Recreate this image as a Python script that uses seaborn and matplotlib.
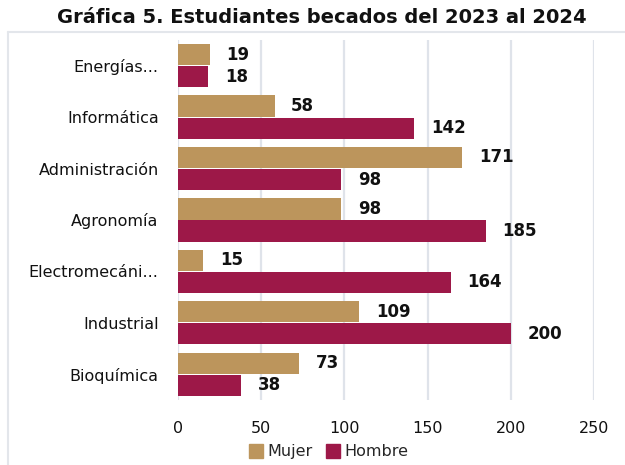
import pandas as pd
import matplotlib.pyplot as plt
import seaborn as sns
from matplotlib.lines import Line2D

carreras = ["Energías...", "Informática", "Administración", "Agronomía",
            "Electromecáni...", "Industrial", "Bioquímica"]
mujer = [19, 58, 171, 98, 15, 109, 73]
hombre = [18, 142, 98, 185, 164, 200, 38]
series = ["Mujer", "Hombre"]
colores = ["#BC955C", "#9D1848"]

df = pd.DataFrame({
    "carrera": carreras * 2,
    "sexo": ["Mujer"] * len(carreras) + ["Hombre"] * len(carreras),
    "valor": mujer + hombre,
})

sns.set_style("white")
plt.rcParams["font.family"] = ["DejaVu Sans"]

fig = plt.figure(figsize=(6.25, 4.65), dpi=100)
ax = fig.add_axes([0.285, 0.14, 0.665, 0.774])

sns.barplot(data=df, y="carrera", x="valor", hue="sexo", hue_order=series,
            palette=colores, orient="h", width=0.86, gap=0.04,
            saturation=1, linewidth=0, ax=ax, legend=False)

for cont in ax.containers:
    ax.bar_label(cont, padding=12, fontsize=12, fontweight="bold", color="#111111")

ax.set_xlim(0, 250)
ax.set_ylim(6.5, -0.5)
ax.set_xticks([0, 50, 100, 150, 200, 250])
ax.xaxis.grid(True, color="#DFE3EA", linewidth=1.6)
ax.set_axisbelow(True)
ax.set_xlabel("")
ax.set_ylabel("")
for s in ax.spines.values():
    s.set_visible(False)
ax.tick_params(axis="y", length=0, pad=14, labelsize=11.5, labelcolor="#111111")
ax.tick_params(axis="x", length=0, pad=15, labelsize=11.5, labelcolor="#111111")

handles = [Line2D([], [], marker="s", linestyle="", markersize=10,
                  color=c) for c in colores]
fig.legend(handles, series, loc="center", bbox_to_anchor=(0.525, 0.028),
           ncol=2, frameon=False, fontsize=11.5, handletextpad=0.2,
           columnspacing=0.8, handlelength=1.0)

fig.text(0.515, 0.962, "Gráfica 5. Estudiantes becados del 2023 al 2024",
         ha="center", va="center", fontsize=14, fontweight="bold", color="#111111")

# light frame at top and left, as in the original export
fig.add_artist(Line2D([0.013, 1.0], [0.931, 0.931], color="#E3E6EB", linewidth=1.5,
                      transform=fig.transFigure))
fig.add_artist(Line2D([0.013, 0.013], [0.0, 0.931], color="#E3E6EB", linewidth=1.5,
                      transform=fig.transFigure))

fig.savefig("out.png", dpi=100)
